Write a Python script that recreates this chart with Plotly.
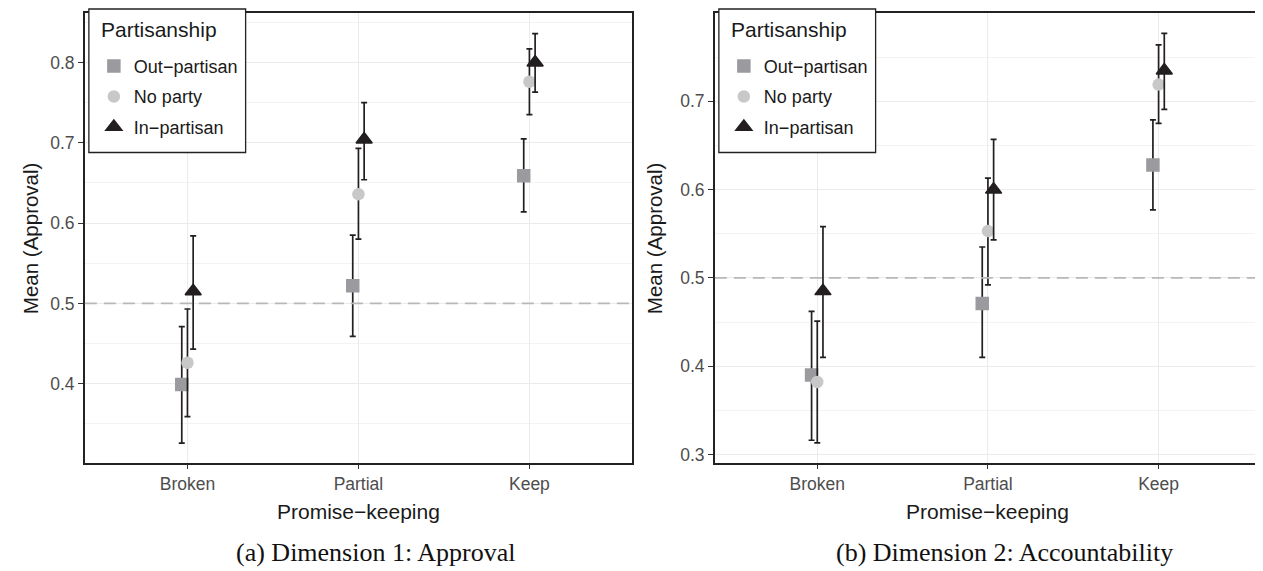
import plotly.graph_objects as go

# ---------------- data ----------------
categories = ["Broken", "Partial", "Keep"]
groups = ["Out\u2212partisan", "No party", "In\u2212partisan"]

# Panel (a): Dimension 1 – Approval
appr_out_mean = [0.399, 0.522, 0.659]
appr_out_lo = [0.326, 0.459, 0.614]
appr_out_hi = [0.471, 0.585, 0.705]
appr_none_mean = [0.426, 0.636, 0.776]
appr_none_lo = [0.359, 0.580, 0.735]
appr_none_hi = [0.493, 0.693, 0.817]
appr_in_mean = [0.515, 0.704, 0.800]
appr_in_lo = [0.443, 0.654, 0.763]
appr_in_hi = [0.584, 0.750, 0.836]

# Panel (b): Dimension 2 – Accountability
acc_out_mean = [0.390, 0.471, 0.628]
acc_out_lo = [0.316, 0.410, 0.577]
acc_out_hi = [0.462, 0.535, 0.679]
acc_none_mean = [0.382, 0.553, 0.719]
acc_none_lo = [0.313, 0.492, 0.675]
acc_none_hi = [0.451, 0.613, 0.764]
acc_in_mean = [0.485, 0.600, 0.735]
acc_in_lo = [0.410, 0.543, 0.691]
acc_in_hi = [0.558, 0.657, 0.777]

ref_line = 0.5
yticks_a = [0.4, 0.5, 0.6, 0.7, 0.8]
yticks_b = [0.3, 0.4, 0.5, 0.6, 0.7]

# ---------------- styling ----------------
# the page body keeps its default 8px margin, so the figure is drawn 8px in
PAGE_OFF = 8
W, H = 1263 - PAGE_OFF, 571 - PAGE_OFF
SANS = "Liberation Sans, Arial, Helvetica, sans-serif"
SERIF = "Liberation Serif, Times New Roman, serif"
symbols = ["square", "circle", "triangle-up"]
colors = ["#9b9b9f", "#c8c8c8", "#231f20"]
sizes = [13.5, 12.5, 14]
dodge = 0.1

def px_x(p):
    return (p - PAGE_OFF) / W

def px_y(p):
    return 1 - (p - PAGE_OFF) / H

panel_top, panel_bot = 13.3, 464.3
xdom_a = [px_x(85), px_x(633)]
xdom_b = [px_x(716), 1.0]
ydom = [px_y(panel_bot), px_y(panel_top)]

fig = go.Figure()

panels = [
    ("x", "y", "legend", [
        (appr_out_mean, appr_out_lo, appr_out_hi),
        (appr_none_mean, appr_none_lo, appr_none_hi),
        (appr_in_mean, appr_in_lo, appr_in_hi)]),
    ("x2", "y2", "legend2", [
        (acc_out_mean, acc_out_lo, acc_out_hi),
        (acc_none_mean, acc_none_lo, acc_none_hi),
        (acc_in_mean, acc_in_lo, acc_in_hi)]),
]

for pi, (xa, ya, leg, series) in enumerate(panels):
    for gi, (mean, lo, hi) in enumerate(series):
        off = (gi - 1) * dodge / 3
        xs = [i + off for i in range(len(categories))]
        fig.add_trace(go.Scatter(
            x=xs, y=mean, xaxis=xa, yaxis=ya, mode="markers",
            name=groups[gi], legend=leg, legendgroup=f"p{pi}g{gi}",
            marker=dict(symbol=symbols[gi], size=sizes[gi], color=colors[gi],
                        line=dict(width=1.5 if gi == 2 else 0, color=colors[gi])),
            error_y=dict(type="data", symmetric=False,
                         array=[h - m for h, m in zip(hi, mean)],
                         arrayminus=[m - l for m, l in zip(mean, lo)],
                         color="#231f20", thickness=1.7, width=3),
            hoverinfo="skip",
        ))

axis_common = dict(
    showline=True, linecolor="#222222", linewidth=1.6, mirror=True,
    ticks="outside", ticklen=5, tickwidth=1, tickcolor="#333333",
    tickfont=dict(family=SANS, size=17.5, color="#4d4d4d"),
    gridcolor="#ebebeb", gridwidth=1.2, zeroline=False,
)

fig.update_layout(
    width=W, height=H,
    margin=dict(l=0, r=0, t=0, b=0),
    paper_bgcolor="white", plot_bgcolor="white",
    showlegend=True,
    xaxis=dict(domain=xdom_a, range=[-0.6, 2.6], tickvals=[0, 1, 2],
               ticktext=categories, anchor="y", **axis_common),
    yaxis=dict(domain=ydom, range=[0.3016, 0.8613], tickvals=yticks_a,
               tickformat=".1f", anchor="x",
               minor=dict(dtick=0.05, tick0=0.35, showgrid=True,
                          gridcolor="#f3f3f3", gridwidth=0.8, ticks=""),
               **axis_common),
    xaxis2=dict(domain=xdom_b, range=[-0.6, 2.6], tickvals=[0, 1, 2],
                ticktext=categories, anchor="y2", **axis_common),
    yaxis2=dict(domain=ydom, range=[0.2906, 0.7998], tickvals=yticks_b,
                tickformat=".1f", anchor="x2",
                minor=dict(dtick=0.05, tick0=0.35, showgrid=True,
                           gridcolor="#f3f3f3", gridwidth=0.8, ticks=""),
                **axis_common),
)

leg_common = dict(
    bgcolor="rgba(0,0,0,0)", borderwidth=0,
    font=dict(family=SANS, size=18, color="#1a1a1a"),
    traceorder="grouped", tracegroupgap=4,
    xanchor="left", yanchor="top", itemclick=False, itemdoubleclick=False,
)
fig.update_layout(
    legend=dict(x=px_x(94), y=px_y(48), **leg_common),
    legend2=dict(x=px_x(725), y=px_y(48), **leg_common),
)

# dashed reference lines + legend boxes
shapes = []
for xr, yr in (("x domain", "y"), ("x2 domain", "y2")):
    shapes.append(dict(type="line", xref=xr, yref=yr, x0=0, x1=1,
                       y0=ref_line, y1=ref_line,
                       line=dict(color="#b8b8b8", width=1.6, dash="12px,7px"),
                       layer="above"))
for left in (89, 720):
    shapes.append(dict(type="rect", xref="paper", yref="paper",
                       x0=px_x(left), x1=px_x(left + 157),
                       y0=px_y(153), y1=px_y(9),
                       line=dict(color="#222222", width=1.3),
                       fillcolor="white", layer="above"))
fig.update_layout(shapes=shapes)

annotations = []
for left in (89, 720):
    annotations.append(dict(text="Partisanship", xref="paper", yref="paper",
                            x=px_x(left + 10), y=px_y(30), xanchor="left",
                            yanchor="middle", showarrow=False,
                            font=dict(family=SANS, size=21, color="#1a1a1a")))
for cx in (358.7, 989.5):
    annotations.append(dict(text="Promise\u2212keeping", xref="paper", yref="paper",
                            x=px_x(cx), y=px_y(513), xanchor="center",
                            yanchor="middle", showarrow=False,
                            font=dict(family=SANS, size=21, color="#1a1a1a")))
for cx in (30, 655):
    annotations.append(dict(text="Mean (Approval)", xref="paper", yref="paper",
                            x=px_x(cx), y=px_y(239), xanchor="center",
                            yanchor="middle", textangle=-90, showarrow=False,
                            font=dict(family=SANS, size=20.5, color="#1a1a1a")))
captions = ["(a) Dimension 1: Approval", "(b) Dimension 2: Accountability"]
for cx, txt in zip((376, 1006), captions):
    annotations.append(dict(text=txt, xref="paper", yref="paper",
                            x=px_x(cx), y=px_y(554), xanchor="center",
                            yanchor="middle", showarrow=False,
                            font=dict(family=SERIF, size=26, color="#111111")))
fig.update_layout(annotations=annotations)

fig.write_html("out.html")
